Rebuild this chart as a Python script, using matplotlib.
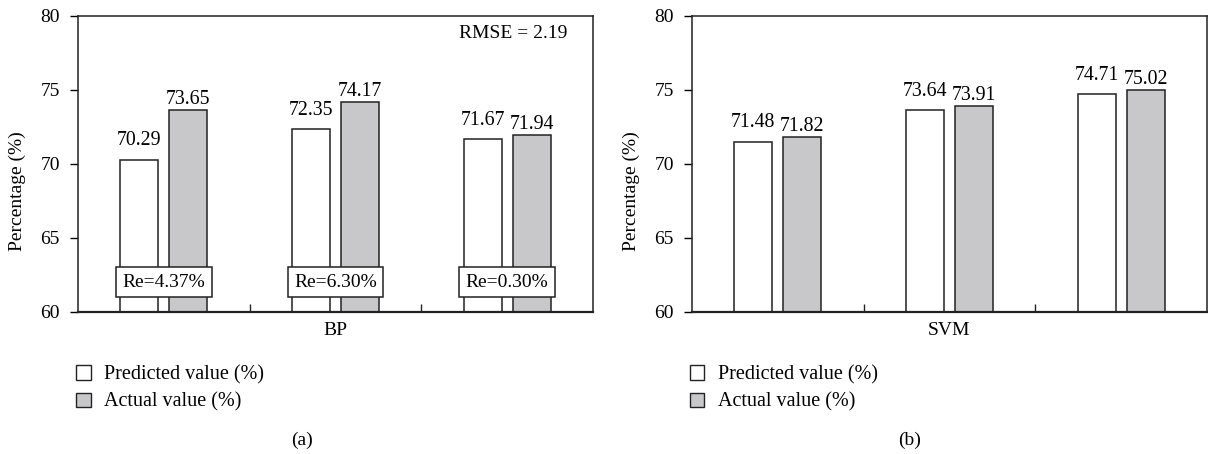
import matplotlib
matplotlib.use('Agg')
import matplotlib.pyplot as plt
from matplotlib.patches import Patch
import numpy as np

plt.rcParams['font.family'] = ['Liberation Serif', 'DejaVu Serif']
plt.rcParams['font.size'] = 14

# data
groups = [0, 1, 2]
bp_pred = [70.29, 72.35, 71.67]
bp_act = [73.65, 74.17, 71.94]
bp_re = ['Re=4.37%', 'Re=6.30%', 'Re=0.30%']
svm_pred = [71.48, 73.64, 74.71]
svm_act = [71.82, 73.91, 75.02]
panel_names = ['BP', 'SVM']
captions = ['(a)', '(b)']
yticks = [60, 65, 70, 75, 80]
legend_labels = ['Predicted value (%)', 'Actual value (%)']

GRAY = '#c8c8ca'
EDGE = '#222222'
W = 0.221
OFF = 0.143

fig = plt.figure(figsize=(12.08, 4.54), dpi=100)
ax_a = fig.add_axes([0.0646, 0.3128, 0.4263, 0.652])
ax_b = fig.add_axes([0.5728, 0.3128, 0.4263, 0.652])


def draw_panel(ax, pred, act, name):
    x = np.array(groups)
    ax.bar(x - OFF, pred, width=W, color='white', edgecolor=EDGE, linewidth=1.1)
    ax.bar(x + OFF, act, width=W, color=GRAY, edgecolor=EDGE, linewidth=1.1)
    for xi, v in zip(x, pred):
        ax.annotate('%.2f' % v, (xi - OFF, v), xytext=(0, 10.5), textcoords='offset points',
                    ha='center', va='baseline', fontsize=14.3)
    for xi, v in zip(x, act):
        ax.annotate('%.2f' % v, (xi + OFF, v), xytext=(0, 4.3), textcoords='offset points',
                    ha='center', va='baseline', fontsize=14.3)
    ax.set_ylim(60, 80)
    ax.set_xlim(-0.5, 2.5)
    ax.set_yticks(yticks)
    ax.set_xticks([0.5, 1.5])
    ax.set_xticklabels([])
    ax.tick_params(axis='x', direction='in', length=6, width=1.0, color=EDGE)
    ax.tick_params(axis='y', direction='out', length=6, width=1.0, pad=7, labelsize=14)
    for s in ax.spines.values():
        s.set_linewidth(1.1)
        s.set_color(EDGE)
    ax.spines['bottom'].set_linewidth(1.6)
    ax.text(0.5, -0.061, name, transform=ax.transAxes, ha='center', va='center', fontsize=14)
    ax.text(-0.117, 0.41, 'Percentage (%)', transform=ax.transAxes, rotation=90,
            ha='center', va='center', fontsize=14)
    handles = [Patch(facecolor='white', edgecolor=EDGE, linewidth=1.0),
               Patch(facecolor=GRAY, edgecolor=EDGE, linewidth=1.0)]
    ax.legend(handles, legend_labels, loc='upper left', bbox_to_anchor=(-0.003, -0.18),
              frameon=False, borderpad=0, borderaxespad=0, handlelength=0.7,
              handleheight=0.7, handletextpad=0.65, labelspacing=0.4, fontsize=14.5)


draw_panel(ax_a, bp_pred, bp_act, panel_names[0])
draw_panel(ax_b, svm_pred, svm_act, panel_names[1])

# relative error boxes on panel a
for xi, t in zip(groups, bp_re):
    ax_a.text(xi, 62.0, t, ha='center', va='center', fontsize=14, zorder=5,
              bbox=dict(boxstyle='square,pad=0.33', facecolor='white', edgecolor=EDGE, linewidth=1.1))

ax_a.text(0.95, 0.926, 'RMSE = 2.19', transform=ax_a.transAxes, ha='right', va='baseline', fontsize=14)

fig.text(0.25, 0.031, captions[0], ha='center', va='center', fontsize=14)
fig.text(0.753, 0.031, captions[1], ha='center', va='center', fontsize=14)

fig.savefig('out.png', dpi=100)
